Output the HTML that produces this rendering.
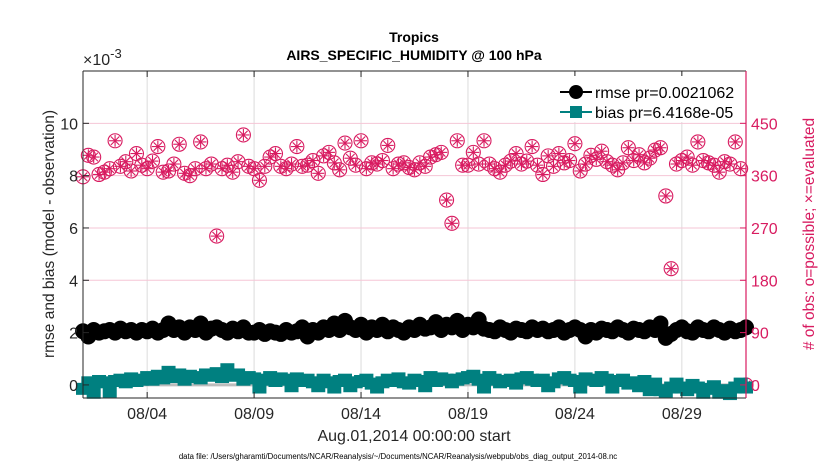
<!DOCTYPE html>
<html><head><meta charset="utf-8">
<style>
body{margin:0;background:#fff;}
svg{display:block;font-family:"Liberation Sans",Arial,sans-serif;}
</style></head>
<body>
<svg id="chart" width="830" height="470" viewBox="0 0 830 470" xmlns="http://www.w3.org/2000/svg">
<rect width="830" height="470" fill="#fff"/>
<g id="grid"></g>
<g id="series"></g>
<g id="axes"></g>
</svg>
<script>
const rmse=[2.05,1.85,2.1,2.0,2.05,2.1,2.0,2.15,2.05,2.1,2.0,2.1,2.05,2.15,2.0,2.1,2.35,2.1,2.2,2.0,2.2,2.1,2.35,2.0,2.15,2.2,2.1,2.0,2.15,2.05,2.2,2.0,2.0,2.1,1.95,2.05,2.0,1.95,2.1,2.0,2.05,2.2,1.85,2.1,2.0,2.2,2.1,2.35,2.1,2.45,2.2,2.1,2.3,2.0,2.2,2.1,2.3,2.05,2.2,2.1,2.0,2.2,2.1,2.3,2.15,2.2,2.4,2.1,2.3,2.2,2.45,2.1,2.3,2.2,2.5,2.15,2.1,2.05,2.2,2.1,2.0,2.15,2.1,2.05,2.2,2.1,2.15,2.05,2.1,2.2,2.0,2.1,2.2,2.1,1.85,2.1,2.0,2.15,2.1,2.05,2.2,2.1,2.0,2.15,2.1,2.05,2.2,2.1,2.35,1.8,1.95,2.1,2.2,2.05,2.0,2.2,2.1,2.05,2.2,2.1,2.0,2.15,2.05,2.1,2.2];
const bias=[-0.15,0.1,-0.3,0.15,0.1,-0.25,0.15,0.2,0.1,0.25,0.15,0.2,0.3,0.2,0.35,0.25,0.5,0.3,0.4,0.2,0.35,0.3,0.25,0.4,0.35,0.45,0.3,0.6,0.35,0.4,0.2,0.3,0.25,-0.1,0.2,0.3,0.15,0.25,0.2,-0.05,0.25,0.15,0.2,0.1,-0.05,0.2,0.1,-0.1,0.15,0.2,-0.05,0.1,0.15,0.2,0.05,-0.1,0.1,0.2,0.15,0.25,0.1,0.05,0.2,0.15,-0.05,0.3,0.15,0.25,0.2,0.1,0.2,0.25,0.3,0.35,0.2,-0.1,0.3,0.2,0.1,0.15,0.2,0.05,0.25,0.3,0.2,0.15,0.2,-0.05,0.1,0.25,0.3,0.2,0.15,-0.1,0.25,0.2,0.15,0.3,0.2,-0.1,0.15,0.2,0.05,0.1,-0.05,0.15,-0.2,0.05,-0.2,-0.25,-0.1,0.05,-0.1,-0.2,0.0,-0.1,-0.3,-0.15,-0.05,-0.3,-0.2,-0.35,-0.1,0.05,-0.1];
const obs=[358,395,392,362,366,372,420,376,384,368,398,378,372,385,410,366,368,380,414,364,360,372,418,372,380,256,372,378,366,384,430,376,372,352,376,392,398,376,372,380,410,376,378,386,364,394,400,382,370,416,390,378,420,372,382,380,386,412,372,380,382,374,370,382,376,392,396,400,318,278,420,378,378,400,380,420,380,372,366,378,385,398,380,385,410,378,362,394,376,398,382,386,415,368,380,395,388,402,384,378,370,382,408,386,396,382,390,404,408,325,200,380,386,392,378,418,386,382,378,366,384,380,418,372,0];
const xTickLabels=["08/04","08/09","08/14","08/19","08/24","08/29"];
const xTickDays=[3,8,13,18,23,28];
const yTicks=[0,2,4,6,8,10];
const y2Ticks=[0,90,180,270,360,450];

const NS="http://www.w3.org/2000/svg";
const L=83,R=746,T=71,B=398;
const xS=d=>L+(d/31)*(R-L);
const yS=v=>B-(v+0.5)/12.5*(B-T);
const y2S=v=>yS(v/45);
function mk(tag,attrs,parent){const e=document.createElementNS(NS,tag);for(const k in attrs)e.setAttribute(k,attrs[k]);parent.appendChild(e);return e;}
const grid=document.getElementById('grid'),ser=document.getElementById('series'),ax=document.getElementById('axes');

xTickDays.forEach(d=>{const g=mk('line',{x1:xS(d),x2:xS(d),y1:T,y2:B,stroke:'#dcdcdc','stroke-width':1},grid);

});
y2Ticks.forEach(v=>{const g=mk('line',{x1:L,x2:R,y1:y2S(v),y2:y2S(v),stroke:'#f5c6d6','stroke-width':1},grid);

});
const zl=mk('line',{x1:L,x2:R,y1:yS(0),y2:yS(0),stroke:'#bdbdbd','stroke-width':3},grid);



const t=i=>i*0.25;
const og=mk('g',{},ser);


obs.forEach((v,i)=>{const cx=xS(t(i)),cy=y2S(v);const g=mk('g',{stroke:'#d81b60','stroke-width':1.1,fill:'none'},og);


mk('circle',{cx:cx,cy:cy,r:7},g);
for(let a=0;a<4;a++){const an=a*Math.PI/4;mk('line',{x1:cx-6*Math.cos(an),y1:cy-6*Math.sin(an),x2:cx+6*Math.cos(an),y2:cy+6*Math.sin(an)},g);}
});
const bg=mk('g',{},ser);


mk('polyline',{points:bias.map((v,i)=>xS(t(i))+','+yS(v)).join(' '),fill:'none',stroke:'#008080','stroke-width':3},bg);
bias.forEach((v,i)=>{const r=mk('rect',{x:xS(t(i))-7,y:yS(v)-6,width:14,height:12,fill:'#008080'},bg);

});
const rg=mk('g',{},ser);


mk('polyline',{points:rmse.map((v,i)=>xS(t(i))+','+yS(v)).join(' '),fill:'none',stroke:'#000','stroke-width':3},rg);
rmse.forEach((v,i)=>{const c=mk('circle',{cx:xS(t(i)),cy:yS(v),r:8,fill:'#000'},rg);

});

mk('line',{x1:L,x2:L,y1:T,y2:B,stroke:'#262626','stroke-width':1},ax);
mk('line',{x1:L,x2:R,y1:B,y2:B,stroke:'#262626','stroke-width':1},ax);
mk('line',{x1:L,x2:R,y1:T,y2:T,stroke:'#262626','stroke-width':1},ax);
mk('line',{x1:R,x2:R,y1:T,y2:B,stroke:'#d81b60','stroke-width':1.2},ax);
xTickDays.forEach((d,i)=>{mk('line',{x1:xS(d),x2:xS(d),y1:B,y2:B-6,stroke:'#262626'},ax);mk('line',{x1:xS(d),x2:xS(d),y1:T,y2:T+6,stroke:'#262626'},ax);
const tx=mk('text',{x:xS(d),y:B+21,'text-anchor':'middle','font-size':16,fill:'#262626'},ax);tx.textContent=xTickLabels[i];

});
yTicks.forEach(v=>{mk('line',{x1:L,x2:L+6,y1:yS(v),y2:yS(v),stroke:'#262626'},ax);
const tx=mk('text',{x:L-5,y:yS(v)+6,'text-anchor':'end','font-size':16,fill:'#262626'},ax);tx.textContent=v;

});
y2Ticks.forEach(v=>{mk('line',{x1:R-6,x2:R,y1:y2S(v),y2:y2S(v),stroke:'#d81b60'},ax);
const tx=mk('text',{x:R+5,y:y2S(v)+6,'font-size':16,fill:'#d81b60'},ax);tx.textContent=v;

});
</script>
<svg width="830" height="470" style="position:absolute;left:0;top:0" xmlns="http://www.w3.org/2000/svg">
<text x="414" y="42" text-anchor="middle" font-size="14" font-weight="bold" fill="#000" font-family="Liberation Sans, sans-serif">Tropics</text>
<text x="414" y="60" text-anchor="middle" font-size="14" font-weight="bold" fill="#000" font-family="Liberation Sans, sans-serif">AIRS_SPECIFIC_HUMIDITY @ 100 hPa</text>
<text x="83" y="65" font-size="16" fill="#262626" font-family="Liberation Sans, sans-serif">×10<tspan dy="-7" font-size="13">-3</tspan></text>
<text transform="translate(54,234) rotate(-90)" text-anchor="middle" font-size="15.5" fill="#262626" font-family="Liberation Sans, sans-serif">rmse and bias (model - observation)</text>
<text transform="translate(814,234) rotate(-90)" text-anchor="middle" font-size="15.5" fill="#d81b60" font-family="Liberation Sans, sans-serif"># of obs: o=possible; ×=evaluated</text>
<text x="414" y="441" text-anchor="middle" font-size="16" fill="#262626" font-family="Liberation Sans, sans-serif">Aug.01,2014 00:00:00 start</text>
<text x="398" y="459" text-anchor="middle" font-size="7.8" fill="#000" font-family="Liberation Sans, sans-serif">data file: /Users/gharamti/Documents/NCAR/Reanalysis/~/Documents/NCAR/Reanalysis/webpub/obs_diag_output_2014-08.nc</text>
<g>
<rect x="556" y="76" width="186" height="46" fill="#fff"/>
<g>
<line x1="560" y1="92" x2="592" y2="92" stroke="#000" stroke-width="2"/>
<circle cx="576" cy="92" r="7" fill="#000"/>
<text x="595" y="98" font-size="16" fill="#000" font-family="Liberation Sans, sans-serif">rmse pr=0.0021062</text>
</g>
<g>
<line x1="560" y1="112" x2="592" y2="112" stroke="#008080" stroke-width="2"/>
<rect x="570" y="106" width="12" height="12" fill="#008080"/>
<text x="595" y="118" font-size="16" fill="#000" font-family="Liberation Sans, sans-serif">bias pr=6.4168e-05</text>
</g>
</g>
</svg>
</body></html>
